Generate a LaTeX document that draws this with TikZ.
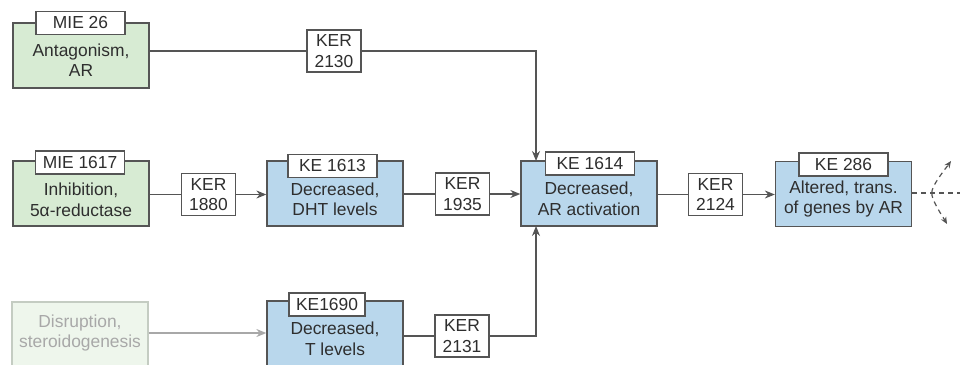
\documentclass[tikz,border=0pt]{standalone}
\usepackage{fontspec}
\setmainfont{Liberation Sans}
\usetikzlibrary{arrows.meta}
\definecolor{txt}{HTML}{2E2E2E}
\definecolor{edge}{HTML}{555555}
\definecolor{gfill}{HTML}{D7EBD3}
\definecolor{bfill}{HTML}{B9D7EC}
\definecolor{pfill}{HTML}{EEF6EC}
\definecolor{pedge}{HTML}{C4CCC2}
\definecolor{ptxt}{HTML}{A8A8A8}
\tikzset{
  every node/.style={font=\fontsize{17.4}{20.5}\selectfont, text=txt},
  mainbox/.style={draw=edge, line width=1.3pt, minimum width=136pt, minimum height=65pt, inner sep=0pt},
  greenbox/.style={mainbox, fill=gfill},
  bluebox/.style={mainbox, fill=bfill},
  palebox/.style={mainbox, fill=pfill, draw=pedge, minimum height=80pt},
  idbox/.style={draw=edge, line width=1.2pt, fill=white, minimum width=89pt, minimum height=23pt, inner sep=0pt},
  kerbox/.style={draw=edge, line width=1.2pt, fill=white, minimum width=54pt, minimum height=42pt, inner sep=0pt, align=center},
  boxtext/.style={align=center, inner sep=0pt},
  conn/.style={draw=edge, line width=1.2pt},
  arr/.style={conn, -{Stealth[length=10pt,width=8pt]}},
  dashconn/.style={conn, dash pattern=on 5pt off 4pt},
}
\begin{document}
\begin{tikzpicture}[x=1pt,y=-1pt]
\useasboundingbox (0,0) rectangle (960,364);
\clip (0,0) rectangle (960,364);
% main boxes
\node[greenbox] (m26) at (81,55.5) {};
\node[greenbox] (m1617) at (81,193.5) {};
\node[bluebox] (k1613) at (335,193.5) {};
\node[bluebox] (k1614) at (589,193.5) {};
\node[bluebox] (k286) at (843.5,194) {};
\node[palebox] (dis) at (80,342) {};
\node[bluebox, minimum height=80pt] (k1690) at (335,341) {};
% id labels
\node[idbox] (l26) at (80.5,23) {MIE 26};
\node[idbox] (l1617) at (80,162.5) {MIE 1617};
\node[idbox] (l1613) at (332.5,166) {KE 1613};
\node[idbox] (l1614) at (590,163.5) {KE 1614};
\node[idbox] (l286) at (843.5,164.5) {KE 286};
\node[idbox, minimum width=76pt] (l1690) at (327,304.5) {KE1690};
% texts
\node[boxtext] (t26) at (81,60) {Antagonism,\\AR};
\node[boxtext] (t1617) at (81,200) {Inhibition,\\5α-reductase};
\node[boxtext] (t1613) at (335,199.5) {Decreased,\\DHT levels};
\node[boxtext] (t1614) at (589,199) {Decreased,\\AR activation};
\node[boxtext] (t286) at (843.5,199) {Altered, trans.\\of genes by AR};
\node[boxtext, text=ptxt] (tdis) at (80,333) {Disruption,\\steroidogenesis};
\node[boxtext] (t1690) at (335,339) {Decreased,\\T levels};
% KER boxes
\node[kerbox] (r2130) at (334,51) {KER\\2130};
\node[kerbox] (r1880) at (208.5,194.5) {KER\\1880};
\node[kerbox] (r1935) at (462.5,194) {KER\\1935};
\node[kerbox] (r2124) at (715.5,194.5) {KER\\2124};
\node[kerbox] (r2131) at (462,336) {KER\\2131};
% coordinates
\coordinate (in1614top) at (536,161);
\coordinate (in1614bot) at (536,226);
\coordinate (br) at (932,193);
\coordinate (outend) at (960,193);
\coordinate (up) at (951,161);
\coordinate (dn) at (947,224);
% connectors
\draw[conn] (r2130.west -| m26.east) -- (r2130.west);
\draw[arr] (r2130.east) -| (in1614top);
\draw[conn] (r1880.west -| m1617.east) -- (r1880.west);
\draw[arr] (r1880.east) -- (r1880.east -| k1613.west);
\draw[conn] (r1935.west -| k1613.east) -- (r1935.west);
\draw[arr] (r1935.east) -- (r1935.east -| k1614.west);
\draw[conn] (r2124.west -| k1614.east) -- (r2124.west);
\draw[arr] (r2124.east) -- (r2124.east -| k286.west);
\draw[arr, draw=ptxt] (tdis.east -| dis.east) -- (tdis.east -| k1690.west);
\draw[conn] (r2131.west -| k1690.east) -- (r2131.west);
\draw[arr] (r2131.east) -| (in1614bot);
\draw[dashconn] (br -| k286.east) -- (outend);
\draw[dashconn, -{Stealth[length=7pt,width=6pt]}] (br) to[out=110,in=235,looseness=0.4] (up);
\draw[dashconn, -{Stealth[length=7pt,width=6pt]}] (br) to[out=250,in=120,looseness=0.4] (dn);
\end{tikzpicture}
\end{document}
